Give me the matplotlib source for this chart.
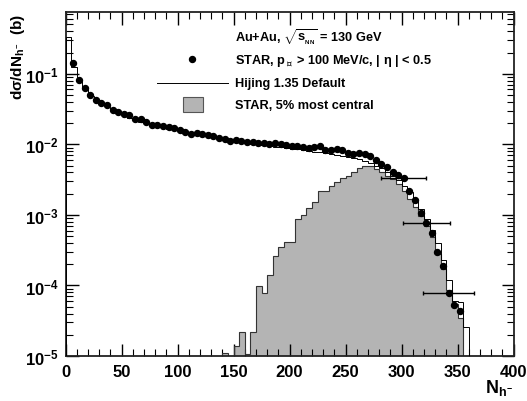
import matplotlib
matplotlib.use("Agg")
import matplotlib.pyplot as plt
from matplotlib.ticker import MultipleLocator, LogLocator, NullFormatter
import numpy as np

plt.rcParams['font.family'] = ['Liberation Sans', 'DejaVu Sans']
plt.rcParams['font.weight'] = 'bold'
plt.rcParams['mathtext.fontset'] = 'custom'
plt.rcParams['mathtext.rm'] = 'Liberation Sans:bold'
plt.rcParams['mathtext.it'] = 'Liberation Sans:bold'
plt.rcParams['mathtext.bf'] = 'Liberation Sans:bold'
plt.rcParams['mathtext.sf'] = 'Liberation Sans:bold'

# STAR minimum bias points (every 5 units in N_h-)
star_x = np.arange(7, 353, 5)
star_y = [0.14, 0.082, 0.063, 0.050, 0.043, 0.039, 0.036, 0.031, 0.029, 0.027,
          0.026, 0.023, 0.0225, 0.021, 0.019, 0.0185, 0.018, 0.0178, 0.0168, 0.016,
          0.0152, 0.0138, 0.0146, 0.0140, 0.0134, 0.0131, 0.0124, 0.0118, 0.0112, 0.0116,
          0.0113, 0.0109, 0.0107, 0.0106, 0.0103, 0.0101, 0.0103, 0.0102, 0.0098, 0.0095,
          0.0094, 0.0091, 0.0090, 0.0092, 0.0094, 0.0084, 0.0082, 0.0086, 0.0083, 0.0076,
          0.0074, 0.0075, 0.0072, 0.0068, 0.0060, 0.0053, 0.0048, 0.0041, 0.0037, 0.0033,
          0.0022, 0.0016, 0.00108, 0.00078, 0.00055, 0.00030, 0.00019, 7.7e-5, 5.3e-5, 4.4e-5]

# points carrying horizontal error bars
err_x = [302, 322, 342]
err_y = [0.0033, 0.00078, 7.7e-5]
err_dx = [20, 21, 23]

# Hijing 1.35 default histogram
hij_edges = np.arange(0, 365, 5)
hij_vals = [0.33, 0.125, 0.08, 0.062, 0.049, 0.042, 0.038, 0.034, 0.031, 0.028,
            0.026, 0.024, 0.0225, 0.021, 0.020, 0.0188, 0.018, 0.0172, 0.0166, 0.016,
            0.0153, 0.0147, 0.0141, 0.0137, 0.0132, 0.0128, 0.0124, 0.012, 0.0116, 0.0112,
            0.0109, 0.0106, 0.0103, 0.0101, 0.0099, 0.0097, 0.0095, 0.0093, 0.0091, 0.0089,
            0.0087, 0.0085, 0.0083, 0.0081, 0.0079, 0.0077, 0.0075, 0.0073, 0.0071, 0.0069,
            0.0067, 0.0064, 0.0061, 0.0058, 0.0054, 0.0050, 0.0046, 0.0041, 0.0036, 0.0031,
            0.0026, 0.0021, 0.0016, 0.0012, 0.00088, 0.00062, 0.00040, 0.00023, 0.00012, 6.0e-5,
            5.8e-5, 2.6e-5]

# STAR 5% most central histogram
cen_edges = np.arange(140, 360, 5)
cen_vals = [1.1e-5, 1e-7, 1.4e-5, 2.2e-5, 1.07e-5, 2.2e-5, 9.7e-5, 7.8e-5, 1.4e-4, 2.6e-4,
            3.5e-4, 4.1e-4, 4.1e-4, 8.8e-4, 1.0e-3, 1.25e-3, 1.5e-3, 2.2e-3, 2.2e-3, 2.6e-3,
            2.9e-3, 3.3e-3, 3.6e-3, 4.1e-3, 4.6e-3, 4.9e-3, 4.9e-3, 4.5e-3, 4.0e-3, 3.6e-3,
            3.2e-3, 2.7e-3, 2.2e-3, 1.7e-3, 1.3e-3, 9.5e-4, 7.0e-4, 4.8e-4, 2.8e-4, 1.7e-4,
            8.5e-5, 5.5e-5, 3.5e-5]

fig = plt.figure(figsize=(5.27, 4.02), dpi=100)
ax = fig.add_axes([0.1243, 0.1119, 0.8501, 0.8557])

ax.stairs(cen_vals, cen_edges, fill=True, color='#b4b4b4', baseline=1e-7, zorder=1)
ax.stairs(cen_vals, cen_edges, color='#333333', lw=0.8, baseline=1e-7, zorder=2)
ax.stairs(hij_vals, hij_edges, color='black', lw=0.7, baseline=1e-7, zorder=3)
ax.plot(star_x, star_y, 'o', ms=4.3, color='black', zorder=4)
ax.errorbar(err_x, err_y, xerr=err_dx, fmt='none', ecolor='black', elinewidth=1,
            capsize=1.5, zorder=4)

ax.set_yscale('log')
ax.set_xlim(0, 400)
ax.set_ylim(1e-5, 0.75)
ax.xaxis.set_major_locator(MultipleLocator(50))
ax.xaxis.set_minor_locator(MultipleLocator(10))
ax.yaxis.set_major_locator(LogLocator(base=10, numticks=10))
ax.yaxis.set_minor_locator(LogLocator(base=10, subs=np.arange(2, 10), numticks=10))
ax.yaxis.set_minor_formatter(NullFormatter())
ax.tick_params(which='both', direction='in', top=True, right=True, labelsize=12)
ax.tick_params(which='major', length=9, width=1)
ax.tick_params(which='minor', length=5, width=0.8)
ax.tick_params(axis='x', pad=6)
ax.tick_params(axis='y', pad=5)
for s in ax.spines.values():
    s.set_linewidth(1.3)
    s.set_color('#222222')

# legend drawn by hand
t = ax.transAxes
fs = 9.2
ax.text(0.378, 0.930, r'Au+Au, $\sqrt{s_{_{NN}}}$ = 130 GeV', transform=t, fontsize=fs, va='center')
ax.plot([0.282], [0.863], 'o', ms=4.3, color='black', transform=t)
ax.text(0.378, 0.860, r'STAR, p$_{\perp}$ > 100 MeV/c, | η | < 0.5', transform=t, fontsize=fs, va='center')
ax.plot([0.204, 0.363], [0.794, 0.794], color='black', lw=0.7, transform=t)
ax.text(0.378, 0.794, 'Hijing 1.35 Default', transform=t, fontsize=fs, va='center')
ax.add_patch(plt.Rectangle((0.262, 0.709), 0.045, 0.044, transform=t,
                           facecolor='#b4b4b4', edgecolor='#555555', lw=0.8))
ax.text(0.378, 0.730, 'STAR, 5% most central', transform=t, fontsize=fs, va='center')

fig.text(0.034, 0.965, r'dσ/dN$_{h^{-}}$  (b)', rotation=90, ha='center', va='top', fontsize=11)
fig.text(0.975, 0.035, r'N$_{h^{-}}$', ha='right', va='center', fontsize=13)

fig.savefig('out.png', dpi=100)
